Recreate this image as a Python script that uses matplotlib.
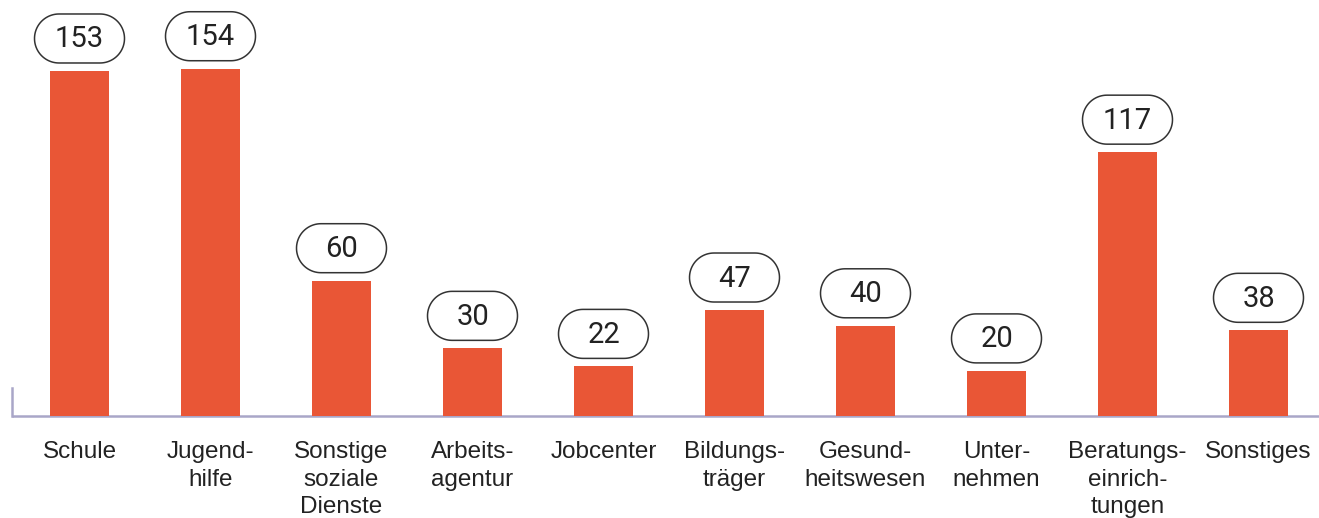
import matplotlib
matplotlib.use("Agg")
import matplotlib.pyplot as plt
from matplotlib.patches import Polygon
import numpy as np

# Daten
kategorien = ["Schule", "Jugend-\nhilfe", "Sonstige\nsoziale\nDienste", "Arbeits-\nagentur",
              "Jobcenter", "Bildungs-\nträger", "Gesund-\nheitswesen", "Unter-\nnehmen",
              "Beratungs-\neinrich-\ntungen", "Sonstiges"]
werte = [153, 154, 60, 30, 22, 47, 40, 20, 117, 38]

balken_farbe = "#E95636"
linien_farbe = "#A9A6C8"
text_farbe = "#222222"

plt.rcParams['font.family'] = ['Liberation Sans', 'DejaVu Sans']

fig = plt.figure(figsize=(13.19, 5.18), dpi=100)
ax = fig.add_axes([0, 0, 1, 1])

# Skalen: 131 px pro Kategorie, 2.255 px pro Einheit
px_x = 131.0
px_y = 2.255
ax.set_xlim(-79.5 / px_x, (1319 - 79.5) / px_x)
ax.set_ylim(-102 / px_y, (518 - 102) / px_y)
ax.axis("off")

x = np.arange(len(werte))
ax.bar(x, werte, width=59 / px_x, color=balken_farbe, zorder=2)

# Grundlinie und kleiner Strich links
x0 = ax.get_xlim()[0] + 12 / px_x
ax.plot([x0, ax.get_xlim()[1]], [0, 0], color=linien_farbe, lw=1.8, zorder=1,
        solid_capstyle="butt")
ax.plot([x0, x0], [0, 28 / px_y], color=linien_farbe, lw=1.8, zorder=1)

# Kategorien
for xi, name in zip(x, kategorien):
    ax.text(xi, -25 / px_y, name, ha="center", va="top", fontsize=17.5,
            linespacing=1.33, color=text_farbe)


def pille(cx, cy, w, h):
    # Umriss einer Pille (Halbkreise links/rechts) in Pixeln
    r = h / 2
    t = np.linspace(-np.pi / 2, np.pi / 2, 40)
    rechts = np.column_stack([cx + w / 2 - r + r * np.cos(t), cy + r * np.sin(t)])
    links = np.column_stack([cx - w / 2 + r - r * np.cos(t), cy - r * np.sin(t)])
    return np.vstack([rechts, links])


# Wert-Boxen in Pixelkoordinaten
fig.canvas.draw()
for xi, v in zip(x, werte):
    cx, cy = ax.transData.transform((xi, v))
    w, h = 90, 49
    mitte = cy + 8 + h / 2
    box = Polygon(pille(cx, mitte, w, h), closed=True, transform=None,
                  facecolor="white", edgecolor="#333333", lw=1.1, zorder=3)
    fig.add_artist(box)
    fig.text(cx / fig.bbox.width, (mitte - 1) / fig.bbox.height, str(v),
             ha="center", va="center", fontsize=21, color=text_farbe, zorder=4,
             family=["Roboto", "DejaVu Sans"])

fig.savefig("out.png", dpi=100)
